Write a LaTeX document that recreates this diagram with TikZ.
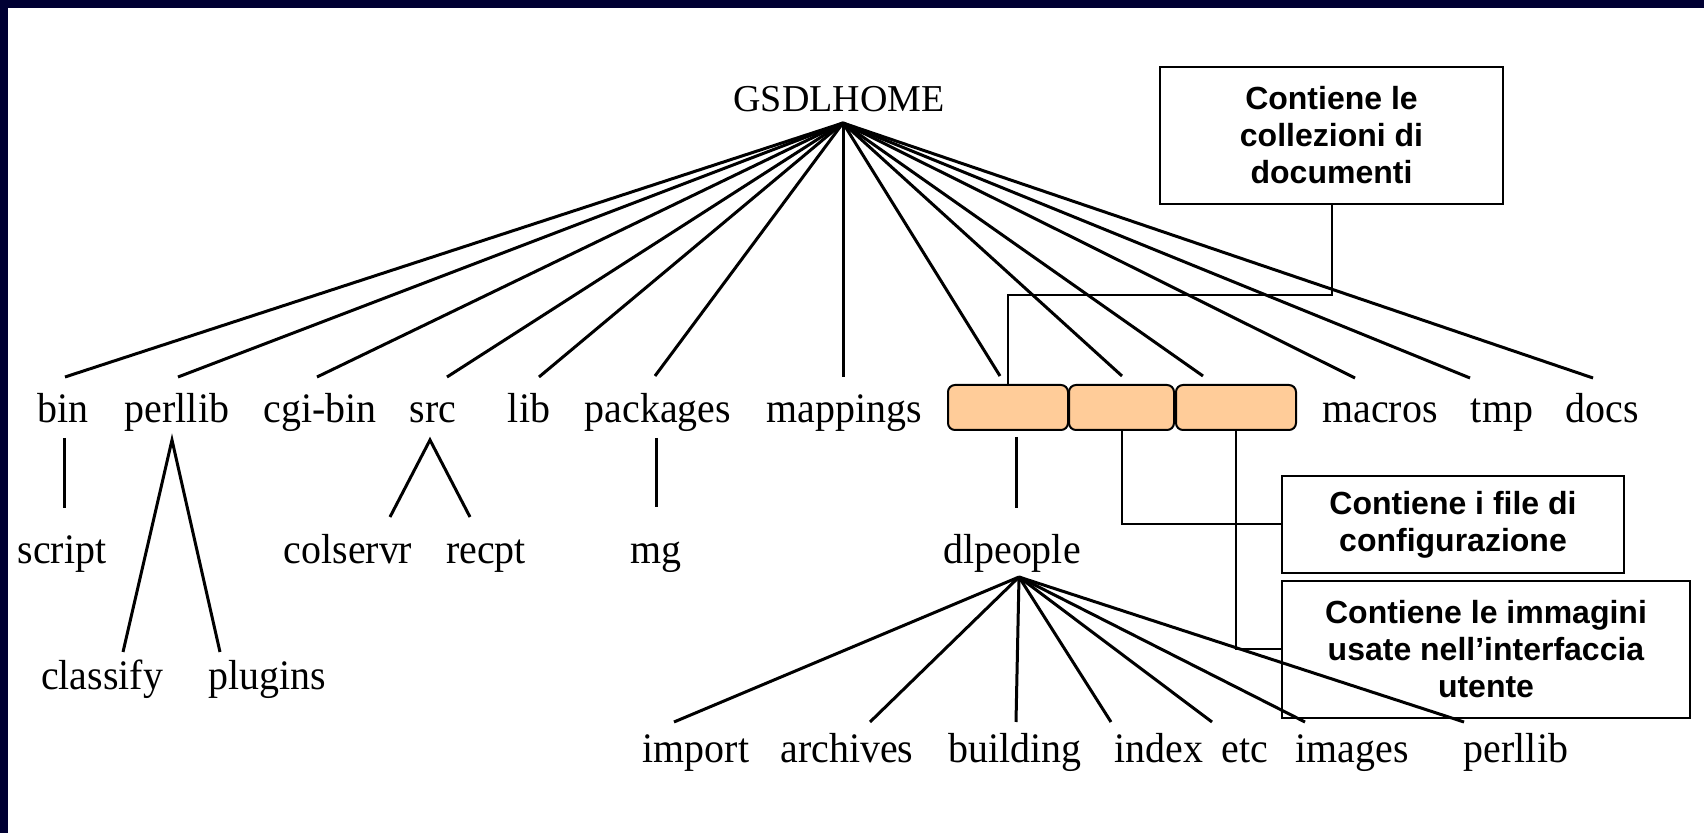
\documentclass[tikz,border=0pt]{standalone}
\usepackage{fontspec}
\setmainfont{Liberation Serif}
\newfontfamily\lblfont[FakeStretch=0.95]{Liberation Serif}
\newfontfamily\notefont{Liberation Sans}
\definecolor{navy}{RGB}{0,0,51}
\definecolor{peach}{RGB}{255,204,153}
\begin{document}
\begin{tikzpicture}[x=0.5pt,y=-0.5pt,
  lbl/.style={anchor=base,inner sep=0pt,font=\lblfont\fontsize{21}{25}\selectfont},
  tree/.style={line width=1.5pt},
  conn/.style={line width=1pt},
  folder/.style={draw,line width=1pt,fill=peach,rounded corners=3.5pt,minimum height=22.5pt,inner sep=0pt},
  note/.style={draw,line width=1.2pt,align=center,inner sep=0pt,font=\notefont\bfseries\fontsize{16}{18.5}\selectfont}]
\useasboundingbox (0,0) rectangle (1704,833);
\fill[white] (0,0) rectangle (1704,833);
\fill[navy] (0,0) rectangle (1704,8);
\fill[navy] (0,0) rectangle (8,833);

% labels
\node[lbl,font=\fontsize{19}{23}\selectfont] (gsdl) at (839,112) {GSDLHOME};
\node[lbl] (bin) at (63,423) {bin};
\node[lbl] (perllib) at (177,423) {perllib};
\node[lbl] (cgibin) at (320,423) {cgi-bin};
\node[lbl] (src) at (433,423) {src};
\node[lbl] (lib) at (529,423) {lib};
\node[lbl] (packages) at (658,423) {packages};
\node[lbl] (mappings) at (844,423) {mappings};
\node[lbl] (macros) at (1380,423) {macros};
\node[lbl] (tmp) at (1502,423) {tmp};
\node[lbl] (docs) at (1602,423) {docs};

\node[lbl] (script) at (62,564) {script};
\node[lbl] (colservr) at (348,564) {colservr};
\node[lbl] (recpt) at (486,564) {recpt};
\node[lbl] (mg) at (656,564) {mg};
\node[lbl] (dlpeople) at (1012,564) {dlpeople};

\node[lbl] (classify) at (102,690) {classify};
\node[lbl] (plugins) at (267,690) {plugins};

\node[lbl] (import) at (696,763) {import};
\node[lbl] (archives) at (847,763) {archives};
\node[lbl] (building) at (1015,763) {building};
\node[lbl] (index) at (1159,763) {index};
\node[lbl] (etc) at (1245,763) {etc};
\node[lbl] (images) at (1352,763) {images};
\node[lbl] (perllibb) at (1516,763) {perllib};

% folders
\node[folder,minimum width=60pt] (f1) at (1008,407.5) {};
\node[folder,minimum width=52.5pt] (f2) at (1121.5,407.5) {};
\node[folder,minimum width=60pt] (f3) at (1236,407.5) {};

% notes
\node[note,minimum width=171.5pt,minimum height=68.5pt] (coll) at (1331.5,135.5) {Contiene le\\collezioni di\\documenti};
\node[note,minimum width=171pt,minimum height=48.5pt] (conf) at (1453,524.5) {Contiene i file di\\configurazione};
\node[note,minimum width=204pt,minimum height=68.5pt] (imm) at (1486,649.5) {Contiene le immagini\\usate nell’interfaccia\\utente};

% connector points
\coordinate (top) at (843,123);
\coordinate (bin-in) at (65,377);
\coordinate (perllib-in) at (178,377);
\coordinate (cgibin-in) at (317,377);
\coordinate (src-in) at (447,377);
\coordinate (lib-in) at (539,377);
\coordinate (packages-in) at (655,376);
\coordinate (mappings-in) at (843,377);
\coordinate (f1-in) at (1000,376);
\coordinate (f2-in) at (1122,376);
\coordinate (f3-in) at (1203,376);
\coordinate (macros-in) at (1355,378);
\coordinate (tmp-in) at (1470,378);
\coordinate (docs-in) at (1593,378);

\coordinate (bin-out) at (64,438);
\coordinate (script-in) at (64,508);
\coordinate (perllib-out) at (172,440);
\coordinate (classify-in) at (123,652);
\coordinate (plugins-in) at (220,652);
\coordinate (src-out) at (430,440);
\coordinate (colservr-in) at (390,517);
\coordinate (recpt-in) at (470,517);
\coordinate (packages-out) at (656,438);
\coordinate (mg-in) at (656,507);
\coordinate (f1-out) at (1016,437);
\coordinate (dlpeople-in) at (1016,508);

\coordinate (dl-out) at (1019,577);
\coordinate (import-in) at (674,722);
\coordinate (archives-in) at (870,722);
\coordinate (building-in) at (1016,722);
\coordinate (index-in) at (1111,722);
\coordinate (etc-in) at (1212,722);
\coordinate (images-in) at (1305,722);
\coordinate (perllibb-in) at (1464,722);

% tree lines
\foreach \n in {bin,perllib,cgibin,src,lib,packages,mappings,f1,f2,f3,macros,tmp,docs}
  \draw[tree] (top) -- (\n-in);
\draw[tree] (bin-out) -- (script-in);
\draw[tree] (classify-in) -- (perllib-out) -- (plugins-in);
\draw[tree] (colservr-in) -- (src-out) -- (recpt-in);
\draw[tree] (packages-out) -- (mg-in);
\draw[tree] (f1-out) -- (dlpeople-in);
\foreach \n in {import,archives,building,index,etc,images,perllibb}
  \draw[tree] (dl-out) -- (\n-in);

% note connectors
\draw[conn] (coll.south) -- ++(0,90) -| (f1.north);
\draw[conn] (f2.south) |- (conf.west);
\draw[conn] (f3.south) |- (imm.west);
\end{tikzpicture}
\end{document}
